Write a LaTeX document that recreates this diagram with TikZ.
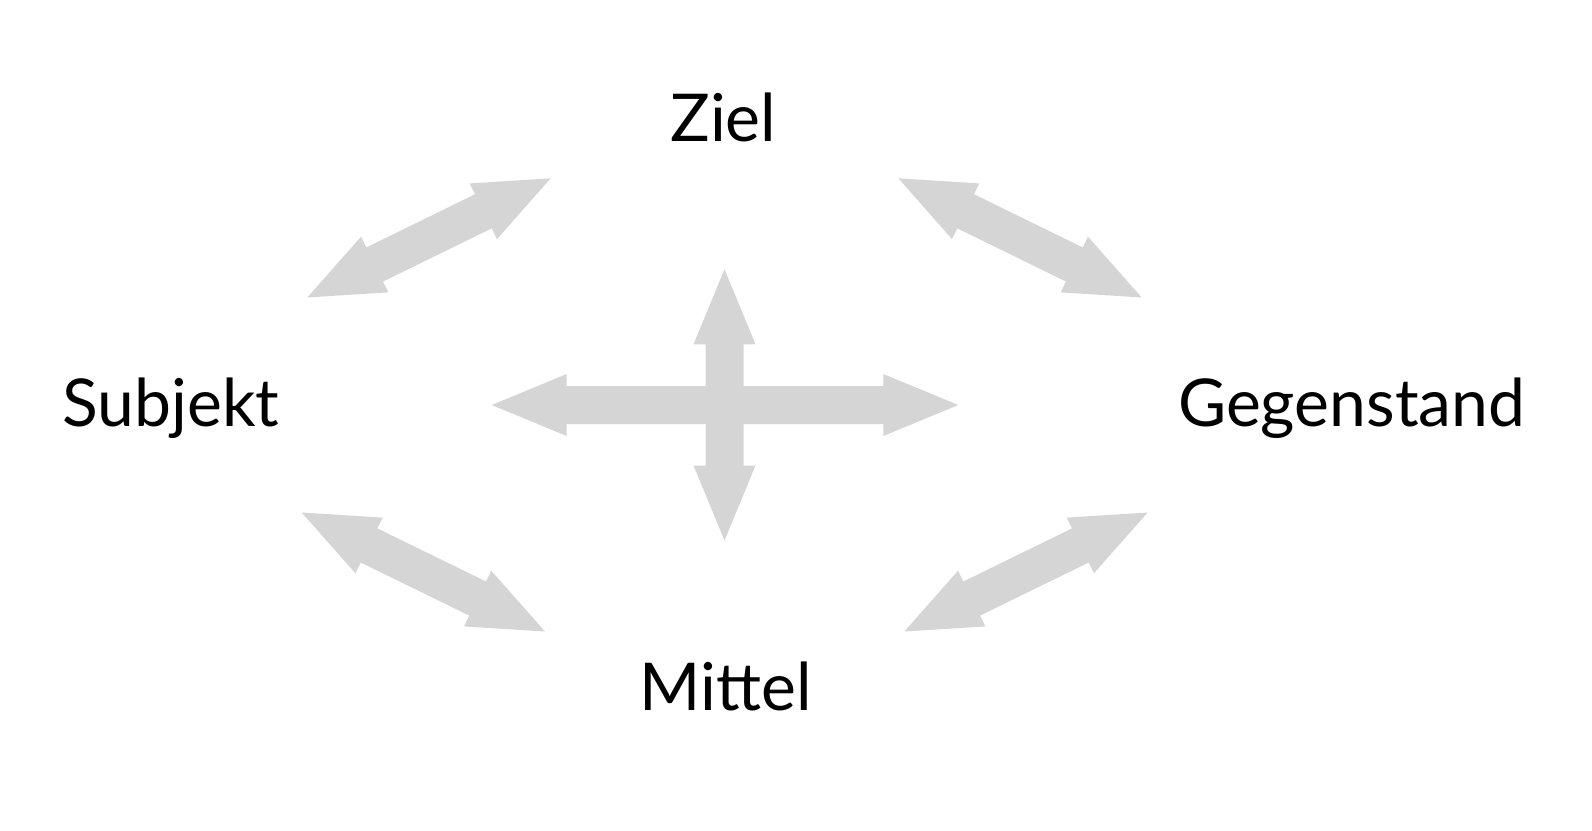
\documentclass[tikz,border=0pt]{standalone}
\usepackage{fontspec}
\setmainfont{Lato}
\usetikzlibrary{calc}
\definecolor{arrowgray}{RGB}{213,213,213}
\tikzset{
	begriff/.style={font=\fontsize{66}{80}\selectfont, inner sep=0pt, anchor=base},
}
% double arrow from #1 to #2 (head 75 long, 62 wide, shaft 38)
\newcommand{\dblarrow}[2]{%
	\fill[arrowgray] (#1)
		-- ($(#1)!75pt!(#2)!31pt!90:(#2)$)
		-- ($(#1)!75pt!(#2)!19pt!90:(#2)$)
		-- ($(#2)!75pt!(#1)!19pt!-90:(#1)$)
		-- ($(#2)!75pt!(#1)!31pt!-90:(#1)$)
		-- (#2)
		-- ($(#2)!75pt!(#1)!31pt!90:(#1)$)
		-- ($(#2)!75pt!(#1)!19pt!90:(#1)$)
		-- ($(#1)!75pt!(#2)!19pt!-90:(#2)$)
		-- ($(#1)!75pt!(#2)!31pt!-90:(#2)$)
		-- cycle;}

\begin{document}
\begin{tikzpicture}[x=1pt,y=-1pt]
	\useasboundingbox (0,0) rectangle (1592,830);
	%labels
	\node[begriff] (ziel) at (723.3,141.7) {Ziel};
	\node[begriff] (subjekt) at (171,426.7) {Subjekt};
	\node[begriff] (gegenstand) at (1351.7,426.7) {Gegenstand};
	\node[begriff] (mittel) at (725.7,710) {Mittel};
	%%% arrow ends
	\coordinate (zs1) at (550.7,178.3);
	\coordinate (zs2) at (307.3,297.5);
	\coordinate (zg1) at (898.3,178.3);
	\coordinate (zg2) at (1141.7,297.5);
	\coordinate (ms1) at (301.7,512.5);
	\coordinate (ms2) at (545,631.5);
	\coordinate (mg1) at (1147.7,512.5);
	\coordinate (mg2) at (904.3,631.5);
	\coordinate (cl) at (491.7,405);
	\coordinate (cr) at (958.3,405);
	\coordinate (ct) at (724.5,269.3);
	\coordinate (cb) at (724.5,540.5);
	%%% outer arrows
	\dblarrow{zs1}{zs2}
	\dblarrow{zg1}{zg2}
	\dblarrow{ms1}{ms2}
	\dblarrow{mg1}{mg2}
	%%% cross
	\dblarrow{cl}{cr}
	\dblarrow{ct}{cb}
\end{tikzpicture}
\end{document}
